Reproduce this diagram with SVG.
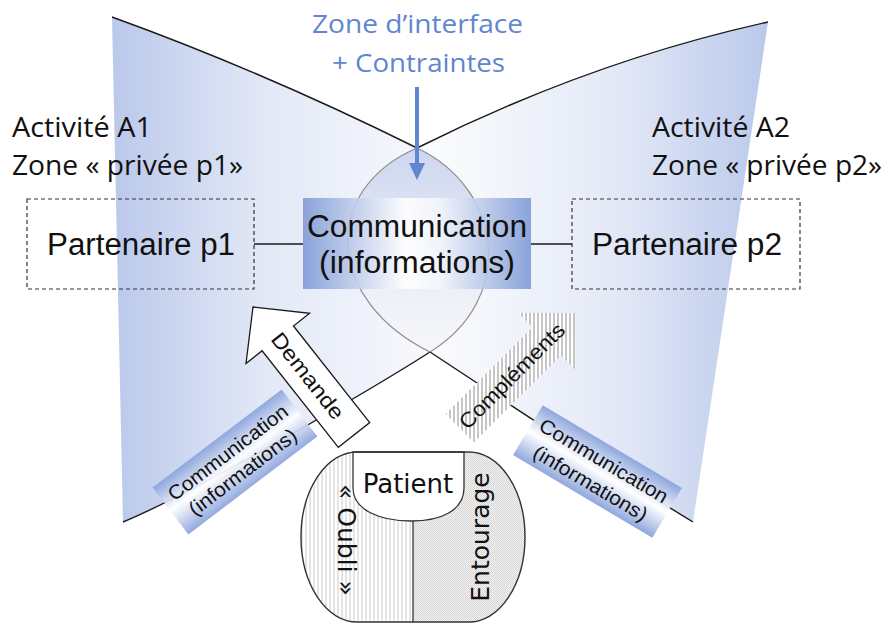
<svg xmlns="http://www.w3.org/2000/svg" width="885" height="625" viewBox="0 0 885 625">
<style>
.line{fill:none;stroke:#1a1a1a;stroke-width:1.4}
.lens{fill:none;stroke:#8c8c8c;stroke-width:1.2}
.dash{fill:none;stroke:#333;stroke-width:1.2;stroke-dasharray:4 3}
.cal{font-family:"Open Sans","Noto Sans",sans-serif;fill:#111}
.ari{font-family:"Liberation Sans",Arial,sans-serif;fill:#111}
.dej{font-family:"DejaVu Sans",Verdana,sans-serif;fill:#111}
.blue{fill:#5f86cf}
</style>
<defs>
<linearGradient id="gL" gradientUnits="userSpaceOnUse" x1="112" y1="0" x2="490" y2="0">
<stop offset="0" stop-color="#bac8eb"/><stop offset="0.4" stop-color="#e2e8f6"/><stop offset="1" stop-color="#ffffff"/>
</linearGradient>
<linearGradient id="gR" gradientUnits="userSpaceOnUse" x1="768" y1="0" x2="400" y2="0">
<stop offset="0" stop-color="#bac8eb"/><stop offset="0.4" stop-color="#e2e8f6"/><stop offset="1" stop-color="#ffffff"/>
</linearGradient>
<linearGradient id="gLens" x1="0" y1="0" x2="0" y2="1">
<stop offset="0" stop-color="#ccd6ef"/><stop offset="0.5" stop-color="#e8ebf5"/><stop offset="1" stop-color="#f6f7fa"/>
</linearGradient>
<linearGradient id="gBox" x1="0" y1="0" x2="1" y2="0">
<stop offset="0" stop-color="#7f9ad6"/><stop offset="0.45" stop-color="#ffffff"/><stop offset="0.6" stop-color="#f2f5fb"/><stop offset="1" stop-color="#7f9ad6"/>
</linearGradient>
<linearGradient id="gSmall" x1="0" y1="0" x2="0" y2="1">
<stop offset="0" stop-color="#8aa3dc"/><stop offset="0.5" stop-color="#ffffff"/><stop offset="1" stop-color="#8aa3dc"/>
</linearGradient>
<pattern id="hDiag" patternUnits="userSpaceOnUse" width="4" height="4" patternTransform="rotate(45)">
<rect width="4" height="4" fill="#fff"/><line x1="1" y1="0" x2="1" y2="4" stroke="#a8a8a8" stroke-width="1.3"/>
</pattern>
<pattern id="hV" patternUnits="userSpaceOnUse" width="4" height="4">
<rect width="4" height="4" fill="#fff"/><line x1="2" y1="0" x2="2" y2="4" stroke="#bdbdbd" stroke-width="0.8"/>
</pattern>
<pattern id="dots" patternUnits="userSpaceOnUse" width="2" height="2">
<rect width="2" height="2" fill="#f2f2f2"/><rect width="1" height="1" fill="#d6d6d6"/><rect x="1" y="1" width="1" height="1" fill="#d6d6d6"/>
</pattern>
<clipPath id="outerClip"><rect x="301" y="452" width="224" height="170" rx="56" ry="85"/></clipPath>
<path id="arrowShape" d="M0,0 L40,-40.5 L40,-20 L163,-20 L163,20 L40,20 L40,40.5 Z"/>
</defs>

<g id="region-a1"><path d="M112,17 Q264,72 417,148 C505,190 515,300 430,352 C380,384 200,490 123,522 Z" fill="url(#gL)"/></g>
<g id="region-a2"><path d="M417,148 Q591,61 768,22 L693,522 C640,490 480,385 430,352 C325,300 320,190 417,148 Z" fill="url(#gR)"/></g>
<g id="interface-zone"><path d="M417,148 C505,190 515,300 430,352 C325,300 320,190 417,148 Z" fill="url(#gLens)"/></g>

<g id="boundaries">
<path class="line" d="M112,17 Q264,72 417,148"/>
<path class="line" d="M417,148 Q591,61 768,22"/>
<path class="line" d="M430,352 C380,384 200,490 123,522"/>
<path class="line" d="M430,352 C480,385 640,490 693,522"/>
<path class="lens" d="M417,148 C505,190 515,300 430,352"/>
<path class="lens" d="M430,352 C325,300 320,190 417,148"/>
</g>

<g id="labels">
<text class="cal" x="12" y="137" font-size="27" textLength="140" lengthAdjust="spacingAndGlyphs">Activité A1</text>
<text class="cal" x="12" y="175" font-size="27" textLength="231" lengthAdjust="spacingAndGlyphs">Zone « privée p1»</text>
<text class="cal" x="652" y="137" font-size="27" textLength="138" lengthAdjust="spacingAndGlyphs">Activité A2</text>
<text class="cal" x="652" y="175" font-size="27" textLength="230" lengthAdjust="spacingAndGlyphs">Zone « privée p2»</text>
</g>

<g id="label-zone">
<text class="cal blue" x="417.5" y="33" font-size="26" text-anchor="middle" textLength="211" lengthAdjust="spacingAndGlyphs">Zone d’interface</text>
<text class="cal blue" x="418.5" y="72" font-size="26" text-anchor="middle" textLength="173" lengthAdjust="spacingAndGlyphs">+ Contraintes</text>
<line x1="417" y1="87" x2="417" y2="165" stroke="#5f86cf" stroke-width="4"/>
<polygon points="409,163 425,163 417,180" fill="#5f86cf"/>
</g>

<g id="connectors">
<line class="line" x1="254" y1="244" x2="303" y2="244"/>
<line class="line" x1="531" y1="244" x2="572" y2="244"/>
</g>

<g id="node-p1">
<rect class="dash" x="27" y="199" width="227" height="90"/>
<text class="ari" x="47" y="255" font-size="31" textLength="188" lengthAdjust="spacingAndGlyphs">Partenaire p1</text>
</g>
<g id="node-p2">
<rect class="dash" x="572" y="199" width="228" height="90"/>
<text class="ari" x="592" y="255" font-size="31" textLength="190" lengthAdjust="spacingAndGlyphs">Partenaire p2</text>
</g>

<g id="node-comm">
<rect x="303" y="198" width="228" height="91" fill="url(#gBox)" opacity="0.9"/>
<text class="ari" x="417" y="237" font-size="31" text-anchor="middle" textLength="220" lengthAdjust="spacingAndGlyphs">Communication</text>
<text class="ari" x="417" y="273" font-size="31" text-anchor="middle" textLength="196" lengthAdjust="spacingAndGlyphs">(informations)</text>
</g>

<g id="node-comm-left" transform="translate(235,462) rotate(-37.2)">
<rect x="-81" y="-29.5" width="162" height="59" fill="url(#gSmall)" opacity="0.92"/>
<text class="ari" x="0" y="-5" font-size="20" text-anchor="middle" textLength="145" lengthAdjust="spacingAndGlyphs">Communication</text>
<text class="ari" x="0" y="19.5" font-size="20" text-anchor="middle" textLength="130" lengthAdjust="spacingAndGlyphs">(informations)</text>
</g>

<g id="node-comm-right" transform="translate(597.5,471.5) rotate(30.7)">
<rect x="-81" y="-29" width="162" height="58" fill="url(#gSmall)" opacity="0.95"/>
<text class="ari" x="0" y="-5.5" font-size="20" text-anchor="middle" textLength="146" lengthAdjust="spacingAndGlyphs">Communication</text>
<text class="ari" x="0" y="20.5" font-size="20" text-anchor="middle" textLength="129" lengthAdjust="spacingAndGlyphs">(informations)</text>
</g>

<g id="node-demande">
<use href="#arrowShape" transform="translate(253,307) rotate(51.7)" fill="#fff" stroke="#1a1a1a" stroke-width="1.3" stroke-linejoin="miter"/>
<text class="ari" transform="translate(307.6,376) rotate(51.7)" x="0" y="7" font-size="21" text-anchor="middle" textLength="104" lengthAdjust="spacingAndGlyphs">Demande</text>
</g>

<g id="node-complements">
<use href="#arrowShape" transform="translate(575,313) rotate(135)" fill="url(#hDiag)"/>
<text class="ari" transform="translate(512,376) rotate(-45)" x="0" y="7" font-size="21" text-anchor="middle" textLength="140" lengthAdjust="spacingAndGlyphs">Compléments</text>
</g>

<g id="node-patient">
<rect x="301" y="452" width="224" height="170" rx="56" ry="85" fill="#fff"/>
<g clip-path="url(#outerClip)">
<rect x="295" y="448" width="118" height="180" fill="url(#hV)"/>
<rect x="413" y="448" width="118" height="180" fill="url(#dots)"/>
</g>
<path d="M353,452 V488 C353,510 380,521 411,521 C442,521 464,510 464,488 V452 Z" fill="#fff" stroke="#333" stroke-width="1.3"/>
<line x1="413" y1="521" x2="413" y2="622" stroke="#333" stroke-width="1.3"/>
<rect x="301" y="452" width="224" height="170" rx="56" ry="85" fill="none" stroke="#333" stroke-width="1.4"/>
<text class="dej" x="408" y="493" font-size="26" text-anchor="middle">Patient</text>
<text class="dej" transform="translate(338,540) rotate(90)" x="0" y="0" font-size="25" text-anchor="middle">« Oubli »</text>
<text class="dej" transform="translate(489,537) rotate(-90)" x="0" y="0" font-size="25" text-anchor="middle">Entourage</text>
</g>
</svg>
